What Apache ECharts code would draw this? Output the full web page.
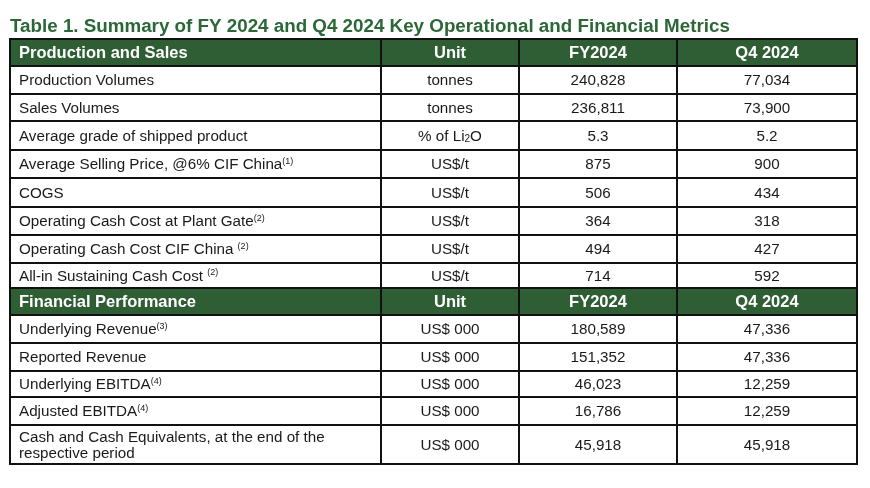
<!DOCTYPE html>
<html>
<head>
<meta charset="utf-8">
<script src="https://cdn.jsdelivr.net/npm/echarts@6.0.0/dist/echarts.min.js"></script>
<style>
  html, body { margin: 0; padding: 0; background: #fff; }
  #main { width: 870px; height: 488px; }
</style>
</head>
<body>
<div id="main"></div>
<script>
const titleText = 'Table 1. Summary of FY 2024 and Q4 2024 Key Operational and Financial Metrics';
const columns = ['Unit', 'FY2024', 'Q4 2024'];

const prodHeader = 'Production and Sales';
const prodMetrics = ['Production Volumes', 'Sales Volumes', 'Average grade of shipped product',
  'Average Selling Price, @6% CIF China', 'COGS', 'Operating Cash Cost at Plant Gate',
  'Operating Cash Cost CIF China ', 'All-in Sustaining Cash Cost '];
const prodNotes = ['', '', '', '(1)', '', '(2)', '(2)', '(2)'];
const prodUnits = ['tonnes', 'tonnes', '% of Li₂O', 'US$/t', 'US$/t', 'US$/t', 'US$/t', 'US$/t'];
const prodFY = [240828, 236811, 5.3, 875, 506, 364, 494, 714];
const prodQ4 = [77034, 73900, 5.2, 900, 434, 318, 427, 592];

const finHeader = 'Financial Performance';
const finMetrics = ['Underlying Revenue', 'Reported Revenue', 'Underlying EBITDA', 'Adjusted EBITDA',
  'Cash and Cash Equivalents, at the end of the\nrespective period'];
const finNotes = ['(3)', '', '(4)', '(4)', ''];
const finUnits = ['US$ 000', 'US$ 000', 'US$ 000', 'US$ 000', 'US$ 000'];
const finFY = [180589, 151352, 46023, 16786, 45918];
const finQ4 = [47336, 47336, 12259, 12259, 45918];

// table layout (px from the table's top-left corner)
const colEdges = [0, 371, 509, 667, 847];
const rowEdges = [0, 27, 55, 82, 111, 139, 168, 196, 224, 249, 276, 304, 332, 358, 386, 425];

const fmt = v => v.toLocaleString('en-US');
const cells = [];
let row = 0;
function addBlock(header, metrics, notes, units, fy, q4) {
  [header].concat(columns).forEach((t, c) => cells.push({ value: [c, row], text: t, header: true }));
  row++;
  metrics.forEach((m, i) => {
    const name = notes[i] ? m + '{sup|' + notes[i] + '}' : m;
    cells.push({ value: [0, row], text: name });
    cells.push({ value: [1, row], text: units[i].replace('₂', '{sub|2}') });
    cells.push({ value: [2, row], text: fmt(fy[i]) });
    cells.push({ value: [3, row], text: fmt(q4[i]) });
    row++;
  });
}
addBlock(prodHeader, prodMetrics, prodNotes, prodUnits, prodFY, prodQ4);
addBlock(finHeader, finMetrics, finNotes, finUnits, finFY, finQ4);

const font = 'Liberation Sans, Arial, sans-serif';

const chart = echarts.init(document.getElementById('main'));
chart.setOption({
  animation: false,
  title: {
    text: titleText, left: 10, top: 17, padding: 0,
    textStyle: { fontSize: 18.8, fontWeight: 'bolder', color: '#2b6737', fontFamily: font }
  },
  grid: { left: 10, right: 13, top: 39, bottom: 24 },
  xAxis: { type: 'value', min: 0, max: 847, show: false },
  yAxis: { type: 'value', min: 0, max: 425, inverse: true, show: false },
  series: [{
    type: 'custom',
    data: cells,
    renderItem: function (params, api) {
      const cell = cells[params.dataIndex];
      const c = api.value(0), r = api.value(1);
      const a = api.coord([colEdges[c], rowEdges[r]]);
      const b = api.coord([colEdges[c + 1], rowEdges[r + 1]]);
      const x = Math.min(a[0], b[0]), y = Math.min(a[1], b[1]);
      const w = Math.abs(b[0] - a[0]), h = Math.abs(b[1] - a[1]);
      const left = c === 0;
      return {
        type: 'group',
        children: [{
          type: 'rect',
          shape: { x: x, y: y, width: w, height: h },
          style: { fill: cell.header ? '#2f5e35' : '#fff', stroke: '#111', lineWidth: 2 }
        }, {
          type: 'text',
          style: {
            text: cell.text,
            x: left ? x + 9 : x + w / 2,
            y: y + h / 2 + 1,
            align: left ? 'left' : 'center',
            verticalAlign: 'middle',
            fontFamily: font,
            fontSize: cell.header ? 16.5 : 15.2,
            fontWeight: cell.header ? 'bold' : 'normal',
            fill: cell.header ? '#fff' : '#1a1a1a',
            lineHeight: 16,
            rich: {
              sup: { fontSize: 9, verticalAlign: 'top', fontFamily: font, fill: '#1a1a1a', lineHeight: 15 },
              sub: { fontSize: 10, verticalAlign: 'bottom', fontFamily: font, fill: '#1a1a1a', lineHeight: 12 }
            }
          }
        }]
      };
    }
  }]
});
</script>
</body>
</html>
